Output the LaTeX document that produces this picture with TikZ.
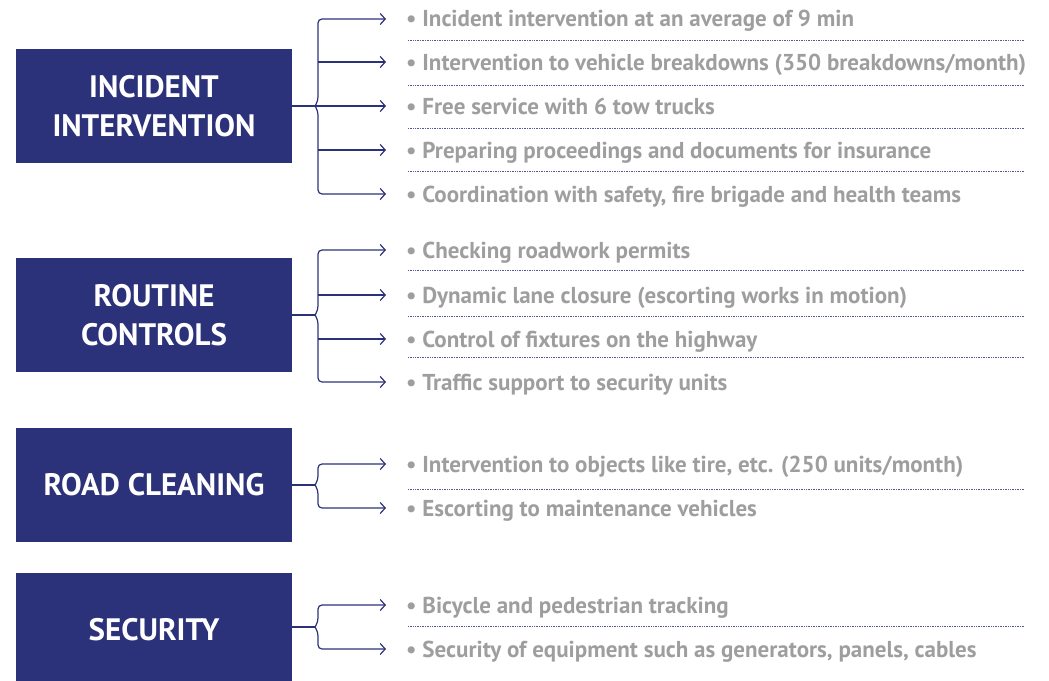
\documentclass[tikz,border=0pt]{standalone}
\usepackage{fontspec}
\setmainfont{PT Sans}
\usetikzlibrary{arrows.meta}

\definecolor{navy}{RGB}{43,50,122}
\definecolor{itemgrey}{RGB}{158,158,158}

\tikzset{
  groupbox/.style={fill=navy, text=white, font=\bfseries\fontsize{31}{39}\selectfont,
    minimum width=276pt, minimum height=114pt, align=center, inner sep=0pt},
  item/.style={anchor=west, text=itemgrey, font=\bfseries\fontsize{23}{26}\selectfont,
    text height=16pt, text depth=0pt, inner sep=0pt},
  link/.style={navy, line width=1.2pt, rounded corners=4pt},
  pointer/.style={link, shorten >=20pt, -{Straight Barb[length=5pt,width=11pt,line width=1.2pt]}},
  sep/.style={navy!80, line width=0.6pt, dash pattern=on 0.7pt off 1pt}
}

\begin{document}
\begin{tikzpicture}[x=1pt,y=-1pt]
\useasboundingbox (0,0) rectangle (1049,680);

% the four groups
\node[groupbox] (incident) at (154,106) {INCIDENT\\INTERVENTION};
\node[groupbox] (routine)  at (154,315) {ROUTINE\\CONTROLS};
\node[groupbox] (cleaning) at (154,485) {ROAD CLEANING};
\node[groupbox] (security) at (154,630) {SECURITY};

% tasks
\node[item] (inc1) at (406,19)  {• Incident intervention at an average of 9 min};
\node[item] (inc2) at (406,62)  {• Intervention to vehicle breakdowns (350 breakdowns/month)};
\node[item] (inc3) at (406,106) {• Free service with 6 tow trucks};
\node[item] (inc4) at (406,150) {• Preparing proceedings and documents for insurance};
\node[item] (inc5) at (406,194) {• Coordination with safety, fire brigade and health teams};

\node[item] (rou1) at (406,250) {• Checking roadwork permits};
\node[item] (rou2) at (406,295) {• Dynamic lane closure (escorting works in motion)};
\node[item] (rou3) at (406,339) {• Control of fixtures on the highway};
\node[item] (rou4) at (406,382) {• Traffic support to security units};

\node[item] (cle1) at (406,464) {• Intervention to objects like tire, etc. (250 units/month)};
\node[item] (cle2) at (406,508) {• Escorting to maintenance vehicles};

\node[item] (sec1) at (406,605) {• Bicycle and pedestrian tracking};
\node[item] (sec2) at (406,649) {• Security of equipment such as generators, panels, cables};

% dotted separators
\foreach \y in {40,85,128,171, 270,316,357, 489, 626}
  \draw[sep] (408,\y) -- (1024,\y);

% braces
\coordinate (incident-b) at (315,106);
\coordinate (routine-b)  at (315,315);
\coordinate (cleaning-b) at (315,485);
\coordinate (security-b) at (315,627);

\draw[link] (incident.east |- incident-b) -- (incident-b);
\draw[pointer] (incident-b) -- ++(3,-5) |- (inc1.west);
\draw[pointer] (incident-b) -- ++(3,5) |- (inc5.west);
\draw[pointer] ([xshift=3pt]incident-b |- inc2.west) -- (inc2.west);
\draw[pointer] (incident-b) -- (inc3.west);
\draw[pointer] ([xshift=3pt]incident-b |- inc4.west) -- (inc4.west);

\draw[link] (routine.east |- routine-b) -- (routine-b);
\draw[pointer] (routine-b) -- ++(3,-5) |- (rou1.west);
\draw[pointer] (routine-b) -- ++(3,5) |- (rou4.west);
\draw[pointer] ([xshift=3pt]routine-b |- rou2.west) -- (rou2.west);
\draw[pointer] ([xshift=3pt]routine-b |- rou3.west) -- (rou3.west);

\draw[link] (cleaning.east |- cleaning-b) -- (cleaning-b);
\draw[pointer] (cleaning-b) -- ++(3,-5) |- (cle1.west);
\draw[pointer] (cleaning-b) -- ++(3,5) |- (cle2.west);

\draw[link] (security.east |- security-b) -- (security-b);
\draw[pointer] (security-b) -- ++(3,-5) |- (sec1.west);
\draw[pointer] (security-b) -- ++(3,5) |- (sec2.west);
\end{tikzpicture}
\end{document}
